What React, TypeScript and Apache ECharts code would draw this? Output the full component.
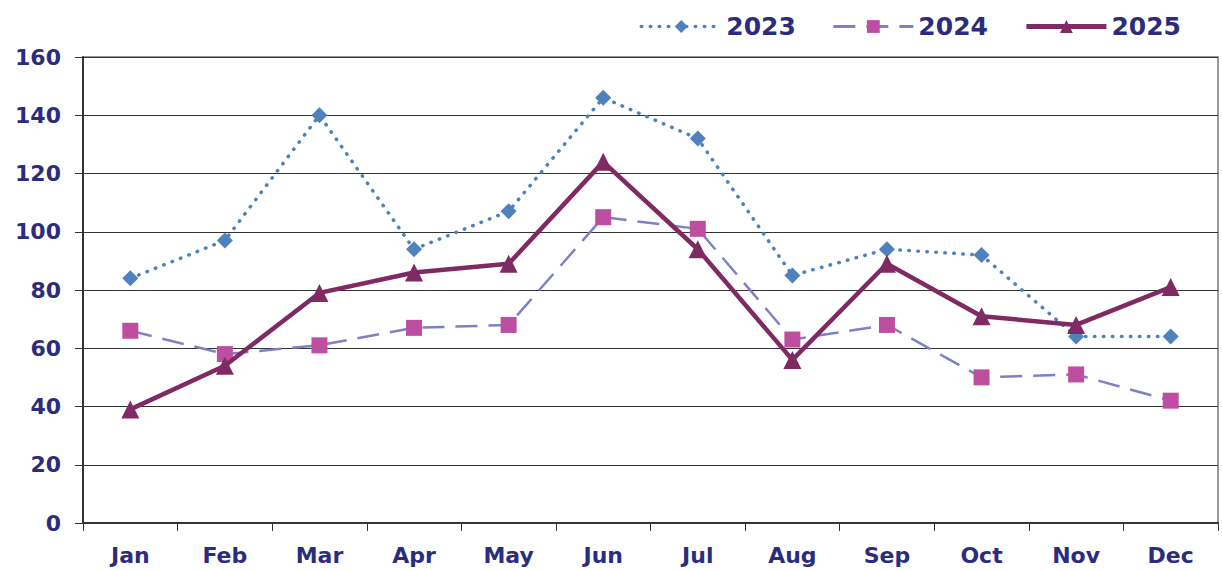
import React, { useEffect, useRef } from "react";
import * as echarts from "echarts";

const months = ["Jan", "Feb", "Mar", "Apr", "May", "Jun", "Jul", "Aug", "Sep", "Oct", "Nov", "Dec"];
const s2023 = [84, 97, 140, 94, 107, 146, 132, 85, 94, 92, 64, 64];
const s2024 = [66, 58, 61, 67, 68, 105, 101, 63, 68, 50, 51, 42];
const s2025 = [39, 54, 79, 86, 89, 124, 94, 56, 89, 71, 68, 81];

const textColor = "#2B2D7C";
const font = "'DejaVu Sans', Verdana, sans-serif";

const c2023 = "#4F81BD";
const c2024line = "#8080C4";
const c2024mark = "#BE4FA0";
const c2025 = "#7F2A62";

export default function App() {
  const ref = useRef<HTMLDivElement>(null);
  useEffect(() => {
    const chart = echarts.init(ref.current!, null, { renderer: "svg" });
    chart.setOption({
      animation: false,
      backgroundColor: "#fff",
      legend: {
        right: 36,
        top: 9,
        itemWidth: 80,
        itemHeight: 16,
        itemGap: 36,
        textStyle: { color: textColor, fontFamily: font, fontWeight: "bold", fontSize: 25 },
        data: [
          { name: "2023", lineStyle: { width: 3.5, type: [0.5, 8.5], cap: "round", color: c2023 } },
          { name: "2024", lineStyle: { width: 3, type: [22, 11], color: c2024line } },
          { name: "2025", lineStyle: { width: 5, color: c2025 } },
        ],
      },
      grid: {
        left: 83,
        right: 4,
        top: 57,
        bottom: 47,
        show: true,
        borderColor: "#9a9a9a",
        borderWidth: 2,
      },
      xAxis: {
        type: "category",
        data: months,
        boundaryGap: true,
        axisLine: { lineStyle: { color: "#333", width: 2 } },
        axisTick: { show: true, length: 8, lineStyle: { color: "#333", width: 1 } },
        axisLabel: { color: textColor, fontFamily: font, fontWeight: "bold", fontSize: 22, margin: 21 },
      },
      yAxis: {
        type: "value",
        min: 0,
        max: 160,
        interval: 20,
        axisLine: { show: true, lineStyle: { color: "#333", width: 2 } },
        axisTick: { show: true, length: 8, lineStyle: { color: "#333", width: 1 } },
        splitLine: { lineStyle: { color: "#333", width: 1 } },
        axisLabel: { color: textColor, fontFamily: font, fontWeight: "bold", fontSize: 22, margin: 22 },
      },
      series: [
        {
          name: "2023",
          type: "line",
          data: s2023,
          symbol: "diamond",
          symbolSize: 16,
          itemStyle: { color: c2023 },
          lineStyle: { color: c2023, width: 3.5, type: [0.5, 8.5], cap: "round" },
          z: 2,
        },
        {
          name: "2024",
          type: "line",
          data: s2024,
          symbol: "rect",
          symbolSize: 16,
          itemStyle: { color: c2024mark },
          lineStyle: { color: c2024line, width: 2.5, type: [22, 11] },
          z: 3,
        },
        {
          name: "2025",
          type: "line",
          data: s2025,
          symbol: "triangle",
          symbolSize: 18,
          itemStyle: { color: c2025 },
          lineStyle: { color: c2025, width: 4.5 },
          z: 4,
        },
      ],
    });
    return () => chart.dispose();
  }, []);
  return (
    <div
      ref={ref}
      style={{ position: "fixed", left: 0, top: 0, width: 1222, height: 570 }}
    />
  );
}
